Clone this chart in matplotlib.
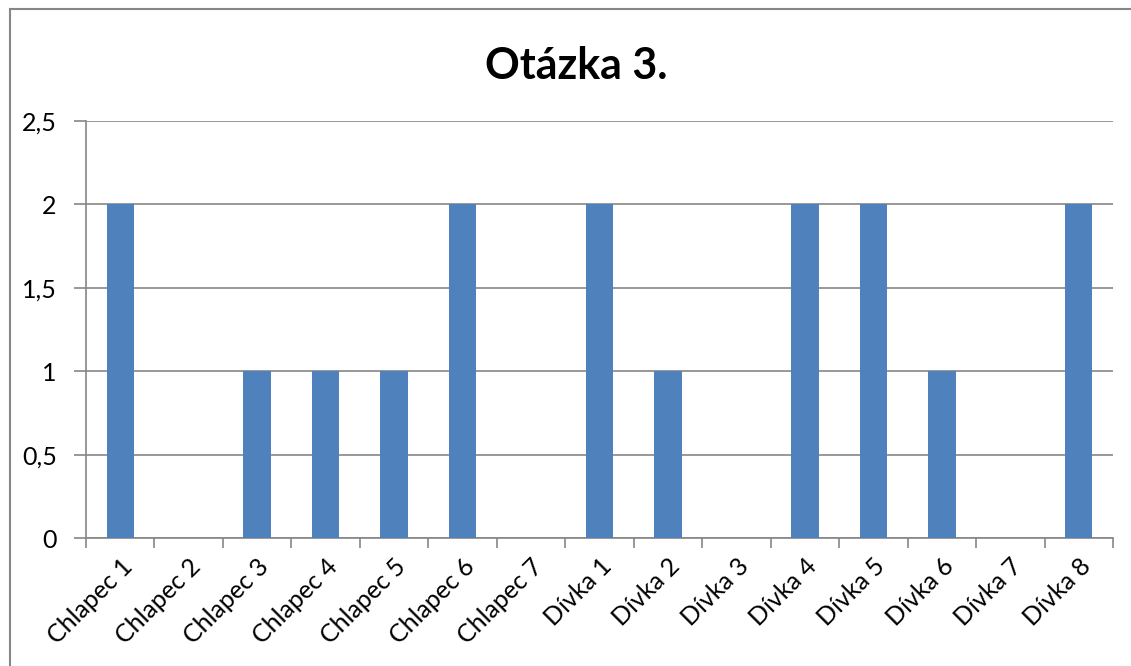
import matplotlib
matplotlib.use("Agg")
import matplotlib.pyplot as plt
from matplotlib.patches import Rectangle

categories = ["Chlapec 1", "Chlapec 2", "Chlapec 3", "Chlapec 4", "Chlapec 5", "Chlapec 6", "Chlapec 7",
              "Dívka 1", "Dívka 2", "Dívka 3", "Dívka 4", "Dívka 5", "Dívka 6", "Dívka 7", "Dívka 8"]
values = [2, 0, 1, 1, 1, 2, 0, 2, 1, 0, 2, 2, 1, 0, 2]
yticks = [0, 0.5, 1, 1.5, 2, 2.5]
ytick_labels = ["0", "0,5", "1", "1,5", "2", "2,5"]
title = "Otázka 3."

plt.rcParams['font.family'] = ['Lato', 'DejaVu Sans']

W, H = 1131, 666
fig = plt.figure(figsize=(W/100, H/100), dpi=100)
ax = fig.add_axes([86/W, 1 - 538/H, (1113-86)/W, (538-121)/H])

x = range(len(categories))
ax.bar(x, values, width=0.4, color="#4F81BD", zorder=3)
ax.set_xlim(-0.5, len(categories) - 0.5)
ax.set_ylim(0, 2.5)
ax.set_yticks(yticks)
ax.set_yticklabels(ytick_labels, fontsize=18)
ax.yaxis.grid(True, color="#868686", linewidth=1.2, zorder=0)
ax.set_axisbelow(True)

ax.set_xticks([i for i in x])
ax.set_xticklabels(categories, rotation=45, ha="right", rotation_mode="anchor", fontsize=18)
ax.tick_params(axis="x", length=0, pad=12)
ax.set_xticks([i - 0.5 for i in range(len(categories) + 1)], minor=True)
ax.tick_params(axis="x", which="minor", length=7, width=1.2, color="#868686")
ax.tick_params(axis="y", length=9, width=1.2, color="#868686", pad=12)

for s in ["top", "right"]:
    ax.spines[s].set_visible(False)
for s in ["left", "bottom"]:
    ax.spines[s].set_color("#868686")
    ax.spines[s].set_linewidth(1.2)

fig.text(576/W, 1 - 66/H, title, ha="center", va="center", fontsize=31, fontweight="bold")

fig.patches.append(Rectangle((10/W, -0.1), 1.2, 1 - 9/H + 0.1, transform=fig.transFigure,
                             fill=False, edgecolor="#868686", linewidth=1.5))

fig.savefig("out.png", dpi=100)
